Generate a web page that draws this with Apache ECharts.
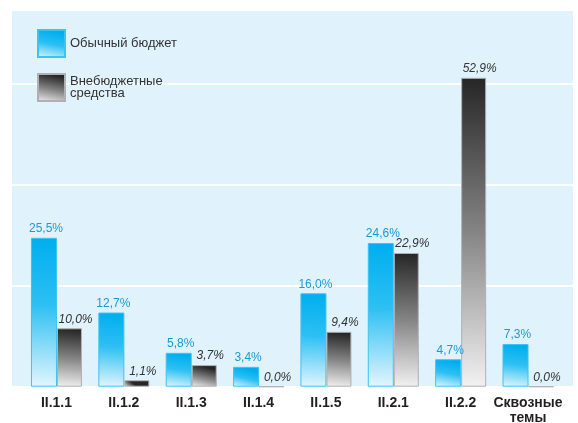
<!DOCTYPE html>
<html>
<head>
<meta charset="utf-8">
<script src="https://cdn.jsdelivr.net/npm/echarts@6/dist/echarts.min.js"></script>
<style>html,body{margin:0;padding:0;background:#fff}#c{width:578px;height:423px}</style>
</head>
<body>
<div id="c"></div>
<script>
const categories = ['II.1.1', 'II.1.2', 'II.1.3', 'II.1.4', 'II.1.5', 'II.2.1', 'II.2.2', 'Сквозные\nтемы'];
const regularBudget = [25.5, 12.7, 5.8, 3.4, 16.0, 24.6, 4.7, 7.3];
const extraBudget = [10.0, 1.1, 3.7, 0.0, 9.4, 22.9, 52.9, 0.0];
const seriesNames = ['Обычный бюджет', 'Внебюджетные\nсредства'];

const fmt = p => p.value.toFixed(1).replace('.', ',') + '%';
const chart = echarts.init(document.getElementById('c'), null, {renderer: 'canvas'});
const yMax = 64.6, yInt = 17.3;
chart.setOption({
  animation: false,
  textStyle: {fontFamily: 'Liberation Sans, Arial, sans-serif'},
  grid: [
    {left: 12, right: 5, top: 9.5, bottom: 36.3, show: true, backgroundColor: '#e0f2fc', borderWidth: 0,
     containLabel: false, outerBoundsMode: 'none'},
    {left: 22.8, right: 16.3, top: 9.5, bottom: 36.3, containLabel: false, outerBoundsMode: 'none'}
  ],
  legend: {
    orient: 'vertical', left: 37, top: 29, padding: 0, itemWidth: 27, itemHeight: 27, itemGap: 15,
    icon: 'rect',
    textStyle: {fontSize: 13, color: '#333', lineHeight: 12},
    data: seriesNames
  },
  xAxis: [
    {gridIndex: 0, type: 'value', show: false, min: 0, max: 1},
    {gridIndex: 1, type: 'category', data: categories,
     axisLine: {show: false}, axisTick: {show: false},
     axisLabel: {interval: 0, fontSize: 14, fontWeight: 'bold', color: '#231f20', margin: 9, lineHeight: 15}}
  ],
  yAxis: [
    {gridIndex: 0, type: 'value', min: 0, max: yMax, interval: yInt,
     axisLabel: {show: false}, axisLine: {show: false}, axisTick: {show: false},
     splitLine: {show: true, lineStyle: {color: '#ffffff', width: 2}}},
    {gridIndex: 1, type: 'value', min: 0, max: yMax, show: false, splitLine: {show: false}}
  ],
  series: [
    {name: seriesNames[0], type: 'bar', xAxisIndex: 1, yAxisIndex: 1, data: regularBudget,
     barWidth: 26, barGap: '0%',
     itemStyle: {
       color: new echarts.graphic.LinearGradient(0.2, 0, 0, 1, [
         {offset: 0, color: '#00aeef'}, {offset: 0.45, color: '#2dc0f3'}, {offset: 1, color: '#e4f6fd'}]),
       borderColor: '#3cc3f2', borderWidth: 1
     },
     label: {show: true, position: 'top', distance: 3, offset: [2, 0], formatter: fmt,
             fontSize: 12, color: '#1a9ad6'}
    },
    {name: seriesNames[1], type: 'bar', xAxisIndex: 1, yAxisIndex: 1, data: extraBudget,
     barWidth: 25, barGap: '0%',
     itemStyle: {
       color: new echarts.graphic.LinearGradient(0.2, 0, 0, 1, [
         {offset: 0, color: '#262626'}, {offset: 0.5, color: '#858585'}, {offset: 1, color: '#f2f2f2'}]),
       borderColor: '#b0b0b0', borderWidth: 1
     },
     label: {show: true, position: 'top', distance: 3, offset: [6, 0], formatter: fmt,
             fontSize: 12, fontStyle: 'italic', color: '#333'}
    }
  ]
});
</script>
</body>
</html>
